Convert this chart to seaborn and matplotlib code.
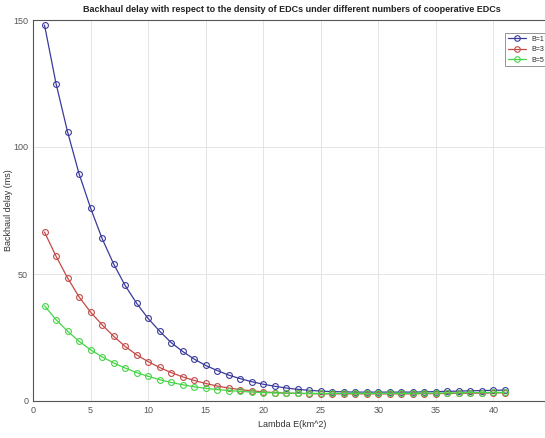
import numpy as np
import pandas as pd
import matplotlib
matplotlib.use("Agg")
import matplotlib.pyplot as plt
from matplotlib.lines import Line2D
import seaborn as sns

# Density of EDCs (km^2)
lam = list(range(1, 42))

# Backhaul delay (ms)
b1 = [148, 125, 106, 89.5, 76, 64, 54, 45.5, 38.5, 32.5, 27.5, 23, 19.5, 16.5, 14, 12,
      10.2, 8.8, 7.6, 6.6, 5.8, 5.1, 4.6, 4.2, 3.9, 3.7, 3.6, 3.5, 3.5, 3.5, 3.5, 3.5,
      3.5, 3.6, 3.7, 3.8, 3.9, 4.0, 4.1, 4.2, 4.3]
b3 = [66.5, 57, 48.5, 41, 35, 30, 25.5, 21.5, 18.2, 15.5, 13.2, 11.2, 9.5, 8.1, 6.9, 5.9,
      5.1, 4.5, 4.0, 3.6, 3.3, 3.1, 3.0, 2.9, 2.8, 2.8, 2.8, 2.8, 2.8, 2.8, 2.8, 2.8,
      2.8, 2.9, 2.9, 3.0, 3.0, 3.1, 3.1, 3.2, 3.2]
b5 = [37.5, 32, 27.5, 23.5, 20.2, 17.4, 15, 13, 11.2, 9.7, 8.4, 7.3, 6.4, 5.6, 5.0, 4.5,
      4.1, 3.8, 3.5, 3.3, 3.2, 3.1, 3.0, 3.0, 3.0, 3.0, 3.0, 3.0, 3.0, 3.0, 3.0, 3.0,
      3.0, 3.1, 3.1, 3.2, 3.2, 3.3, 3.3, 3.4, 3.4]
labels = ["B=1", "B=3", "B=5"]
colors = ["#3a3a9c", "#c24a46", "#46d446"]

df = pd.concat([
    pd.DataFrame({"lam": lam, "delay": vals, "B": lab})
    for vals, lab in zip([b1, b3, b5], labels)
])

sns.set_style("white")
plt.rcParams['font.family'] = ['Liberation Sans', 'DejaVu Sans']

fig = plt.figure(figsize=(5.45, 4.38), dpi=100)
ax = fig.add_axes([33 / 545, 37 / 438, 518 / 545, 381 / 438])

sns.lineplot(data=df, x="lam", y="delay", hue="B", palette=colors, marker="o",
             markersize=4.2, markerfacecolor="none", markeredgewidth=0.8,
             linewidth=0.9, legend=False, ax=ax)
for line, c in zip(ax.lines, colors):
    line.set_markeredgecolor(c)

ax.set_xlim(0, 45)
ax.set_ylim(0, 150)
ax.set_xticks(range(0, 45, 5))
ax.set_yticks([0, 50, 100, 150])
ax.grid(True, color="#e4e4e4", linewidth=0.7)
for s in ax.spines.values():
    s.set_color("#555555")
    s.set_linewidth(0.8)
ax.tick_params(axis="both", labelsize=6.5, colors="#444444", length=3, direction="in",
               labelcolor="#555555")
ax.set_title("Backhaul delay with respect to the density of EDCs under different numbers of cooperative EDCs",
             fontsize=6.5, fontweight="bold", color="#222222", pad=6)
ax.set_xlabel("Lambda E(km^2)", fontsize=6.5, color="#333333", labelpad=4)
ax.set_ylabel("Backhaul delay (ms)", fontsize=6.5, color="#333333")
ax.yaxis.set_label_coords(-0.038, 0.5)

handles = [Line2D([], [], color=c, marker="o", markersize=4, markerfacecolor="none",
                  linewidth=0.9, markeredgewidth=0.8) for c in colors]
leg = ax.legend(handles, labels, loc="upper left", bbox_to_anchor=(0.905, 0.975), fontsize=5,
                frameon=True, fancybox=False, edgecolor="#666666",
                handlelength=2.6, borderpad=0.4, labelspacing=0.5)
leg.get_frame().set_linewidth(0.6)

plt.savefig("out.png", dpi=100)
